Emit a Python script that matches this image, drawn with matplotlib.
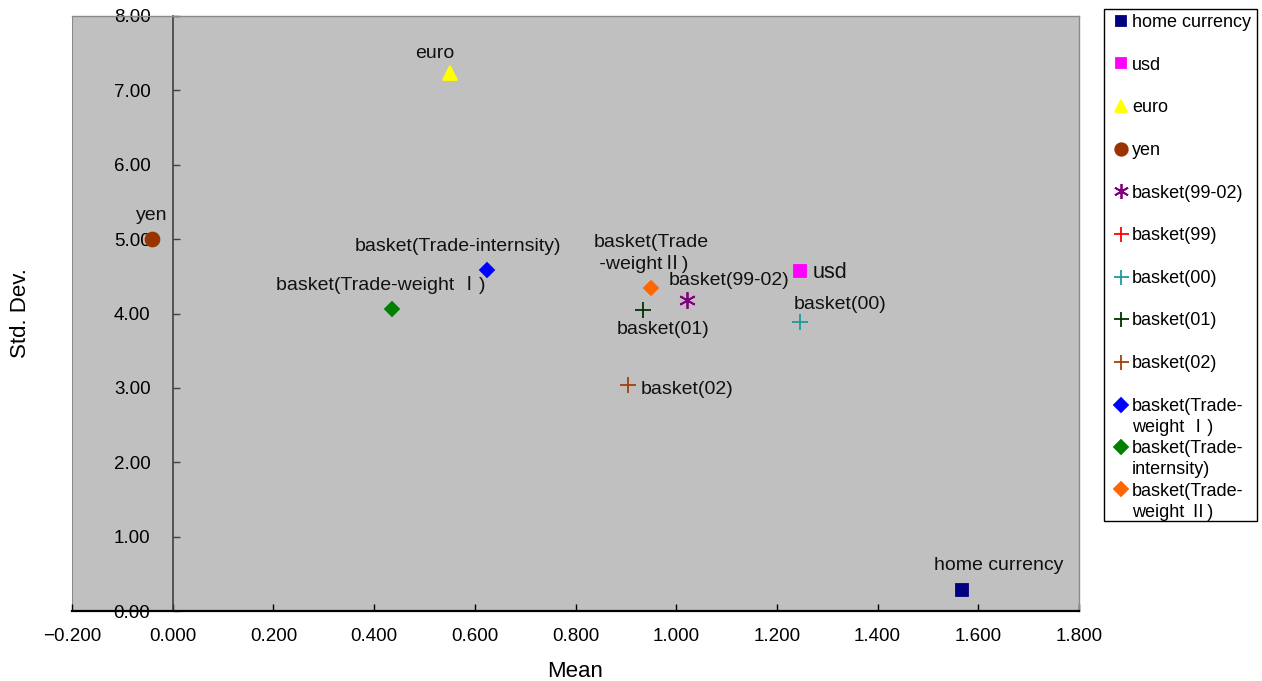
import matplotlib
matplotlib.use("Agg")
import matplotlib.pyplot as plt
from matplotlib.patches import Rectangle

plt.rcParams['font.family'] = ['Liberation Sans', 'Noto Sans CJK JP', 'DejaVu Sans']

# =========================
# DATA
# =========================
names = ["home currency", "usd", "euro", "yen", "basket(99-02)", "basket(99)",
         "basket(00)", "basket(01)", "basket(02)",
         "basket(Trade-weight I)", "basket(Trade-internsity)", "basket(Trade-weight II)"]
# legend text, one list entry per printed line
legend_lines = [["home currency"], ["usd"], ["euro"], ["yen"], ["basket(99-02)"], ["basket(99)"],
                ["basket(00)"], ["basket(01)"], ["basket(02)"],
                ["basket(Trade-", "weight Ⅰ)"], ["basket(Trade-", "internsity)"],
                ["basket(Trade-", "weight Ⅱ)"]]
mean = [1.567, 1.246, 0.550, -0.042, 1.022, None, 1.246, 0.935, 0.905, 0.625, 0.435, 0.950]
std = [0.28, 4.57, 7.23, 5.00, 4.18, None, 3.88, 4.05, 3.04, 4.58, 4.06, 4.34]

# point labels drawn next to each marker (basket(99) has no point)
point_text = ["home currency", "usd", "euro", "yen", "basket(99-02)", None,
              "basket(00)", "basket(01)", "basket(02)",
              "basket(Trade-internsity)", "basket(Trade-weight Ⅰ)", "basket(Trade\n -weightⅡ)"]

# =========================
# STYLE
# =========================
colors = ["#000080", "#FF00FF", "#FFFF00", "#993300", "#800080", "#FF0000",
          "#1E9A9A", "#003300", "#A0400F", "#0000FF", "#008000", "#FF6600"]
markers = ["s", "s", "^", "o", (6, 2, 0), "+", "+", "+", "+", "D", "D", "D"]
sizes = [8, 8.5, 10, 10, 12, 12, 12, 12, 12, 7.5, 7.5, 7.5]
# (dx, dy) offsets in points, ha, fontsize
label_pos = [((27, 18), "center", 14), ((9, -1), "left", 15.5), ((-11, 14), "center", 14),
             ((0, 17), "center", 14), ((30, 14), "center", 14), None,
             ((29, 13), "center", 14), ((14, -14), "center", 14), ((9, -3), "left", 14),
             ((-21, 17), "center", 14), ((-8, 17), "center", 14), ((-41, 25), "left", 14)]

W, H = 1262, 681
fig = plt.figure(figsize=(W / 100, H / 100), dpi=100)
ax = fig.add_axes([72 / W, 1 - 611 / H, 1007 / W, 595 / H])
ax.set_facecolor("#C0C0C0")

handles = []
for i, name in enumerate(names):
    xs = [] if mean[i] is None else [mean[i]]
    ys = [] if std[i] is None else [std[i]]
    h, = ax.plot(xs, ys, linestyle="none", marker=markers[i], markersize=sizes[i],
                 color=colors[i], markeredgecolor=colors[i], markeredgewidth=1.3,
                 label=name, zorder=3)
    handles.append(h)
    if point_text[i] is not None:
        (dx, dy), ha, fs = label_pos[i]
        ax.annotate(point_text[i], (mean[i], std[i]), xytext=(dx, dy),
                    textcoords="offset points", ha=ha, va="center", fontsize=fs,
                    linespacing=1.25, color="#111111", zorder=4)

ax.set_xlim(-0.2, 1.8)
ax.set_ylim(0, 8)
ax.set_xticks([-0.2 + 0.2 * k for k in range(11)])
ax.set_xticklabels([f"{-0.2 + 0.2 * k:.3f}".replace("-", "\u2212") for k in range(11)])
ax.set_yticks(range(9))
ax.set_yticklabels([f"{v:.2f}" for v in range(9)])

# vertical axis crosses at mean = 0
ax.spines["left"].set_position(("data", 0))
ax.spines["left"].set_color("#404040")
ax.spines["left"].set_linewidth(1.2)
ax.spines["bottom"].set_color("black")
ax.spines["bottom"].set_linewidth(1.6)
for s in ("top", "right"):
    ax.spines[s].set_color("#8A8A8A")
    ax.spines[s].set_linewidth(1.0)
ax.axvline(-0.2, color="#8A8A8A", linewidth=1.5, zorder=1)

ax.tick_params(axis="x", direction="in", length=5, width=1, pad=12, labelsize=13.5)
ax.tick_params(axis="y", direction="in", length=5, width=1, pad=16, labelsize=13.5,
               color="#404040")

ax.set_xlabel("Mean", fontsize=16, labelpad=12)
ax.set_ylabel("Std. Dev.", fontsize=16)
ax.yaxis.set_label_coords(-0.041, 0.5)

# =========================
# LEGEND
# =========================
# single-line entries are spaced wider than the wrapped lines of the last three,
# so the legend is built from two stacked legends inside one frame
blank, = ax.plot([], [], linestyle="none", marker="none")
h1, l1, h2, l2 = [], [], [], []
for h, lines in zip(handles, legend_lines):
    if len(lines) == 1:
        h1.append(h)
        l1.append(lines[0])
    else:
        h2 += [h, blank]
        l2 += lines

common = dict(loc="upper left", bbox_transform=fig.transFigure, frameon=False,
              fontsize=13, handlelength=0.8, handletextpad=0.2, borderpad=0,
              borderaxespad=0, markerscale=0.9)
leg1 = ax.legend(h1, l1, bbox_to_anchor=(1114 / W, 1 - 14 / H), labelspacing=1.42, **common)
ax.add_artist(leg1)
leg2 = ax.legend(h2, l2, bbox_to_anchor=(1114 / W, 1 - 398 / H), labelspacing=0.23, **common)

fig.patches.append(Rectangle((1104 / W, 1 - 521 / H), 153 / W, 512 / H,
                             transform=fig.transFigure, fill=False,
                             edgecolor="black", linewidth=1.0))

fig.savefig("out.png", dpi=100)
